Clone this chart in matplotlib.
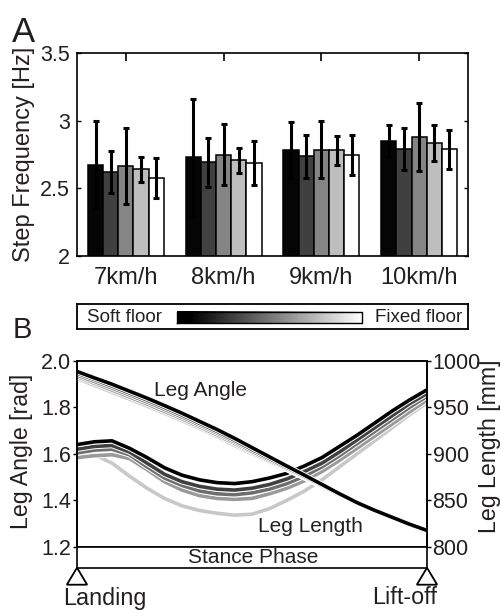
import numpy as np
import matplotlib.pyplot as plt
import matplotlib.patheffects as pe
from matplotlib.patches import Polygon

plt.rcParams['font.family'] = ['Liberation Sans', 'DejaVu Sans']
ink = '#231f20'
plt.rcParams['text.color'] = ink
plt.rcParams['axes.labelcolor'] = ink
plt.rcParams['xtick.labelcolor'] = ink
plt.rcParams['ytick.labelcolor'] = ink

# ---- data, panel A (step frequency, mean and SD, per floor condition)
speeds = ['7km/h', '8km/h', '9km/h', '10km/h']
freq_mean = [[2.675, 2.729, 2.781, 2.852],   # soft floor
             [2.618, 2.692, 2.736, 2.791],
             [2.665, 2.749, 2.786, 2.879],
             [2.640, 2.707, 2.781, 2.835],
             [2.579, 2.687, 2.746, 2.788]]   # fixed floor
freq_sd = [[0.320, 0.430, 0.207, 0.118],
           [0.155, 0.180, 0.160, 0.155],
           [0.280, 0.225, 0.210, 0.250],
           [0.090, 0.093, 0.108, 0.133],
           [0.147, 0.160, 0.150, 0.146]]
bar_colors = ['#050505', '#404040', '#858585', '#bebebe', '#ffffff']

# ---- data, panel B (stance phase in %)
phase = np.arange(0, 101, 5)
leg_angle = [
    [1.955, 1.927, 1.900, 1.870, 1.840, 1.808, 1.775, 1.740, 1.705, 1.667, 1.627,
     1.587, 1.547, 1.508, 1.468, 1.428, 1.390, 1.357, 1.327, 1.297, 1.270],
    [1.948, 1.920, 1.892, 1.862, 1.832, 1.800, 1.767, 1.732, 1.697, 1.659, 1.619,
     1.580, 1.541, 1.503, 1.464, 1.425, 1.388, 1.355, 1.325, 1.295, 1.268],
    [1.940, 1.912, 1.884, 1.854, 1.824, 1.792, 1.759, 1.725, 1.690, 1.652, 1.612,
     1.574, 1.537, 1.500, 1.462, 1.424, 1.387, 1.354, 1.324, 1.294, 1.266],
    [1.933, 1.904, 1.875, 1.845, 1.815, 1.783, 1.751, 1.717, 1.682, 1.645, 1.606,
     1.569, 1.534, 1.498, 1.461, 1.423, 1.386, 1.353, 1.323, 1.293, 1.265],
    [1.925, 1.895, 1.866, 1.836, 1.806, 1.775, 1.743, 1.710, 1.675, 1.637, 1.600,
     1.565, 1.532, 1.497, 1.460, 1.423, 1.386, 1.353, 1.322, 1.292, 1.264]]
leg_length = [
    [910, 913, 914, 906, 896, 885, 877, 872, 869, 868, 870,
     874, 879, 887, 896, 908, 920, 933, 946, 958, 969],
    [905, 908, 909, 902, 890, 878, 870, 865, 862, 861, 863,
     867, 873, 881, 890, 902, 915, 928, 941, 954, 965],
    [901, 904, 905, 899, 886, 874, 866, 860, 857, 856, 858,
     862, 868, 876, 886, 898, 911, 924, 937, 950, 962],
    [896, 898, 899, 895, 883, 870, 861, 855, 852, 851, 852,
     857, 863, 871, 881, 893, 906, 919, 932, 945, 958],
    [900, 899, 890, 876, 863, 852, 844, 839, 836, 834, 835,
     841, 850, 860, 872, 886, 900, 914, 928, 942, 955]]
line_colors = ['#000000', '#404040', '#6e6e6e', '#9a9a9a', '#c8c8c8']

W, H = 502, 610
fig = plt.figure(figsize=(W / 100, H / 100), dpi=100)


def box(x0, y0, x1, y1):
    # pixel box (from top-left) -> figure fraction
    return [x0 / W, 1 - y1 / H, (x1 - x0) / W, (y1 - y0) / H]


# ================= panel A
ax = fig.add_axes(box(77, 53, 468, 256))
bw = 0.155
x = np.arange(1, 5)
for i in range(5):
    ax.bar(x + (i - 2) * bw, freq_mean[i], bw, color=bar_colors[i],
           edgecolor='black', linewidth=1.1, zorder=2)
    ax.errorbar(x + (i - 2) * bw, freq_mean[i], yerr=freq_sd[i], fmt='none',
                ecolor='black', elinewidth=2.2, capsize=2.4, capthick=2.2, zorder=3)
ax.set_xlim(0.5, 4.5)
ax.set_ylim(2, 3.5)
ax.set_xticks(x)
ax.set_xticklabels(speeds, fontsize=17)
ax.set_yticks([2, 2.5, 3, 3.5])
ax.set_yticklabels(['2', '2.5', '3', '3.5'], fontsize=15.5)
ax.tick_params(axis='x', direction='in', top=True, length=6, width=1.2, pad=8)
ax.tick_params(axis='y', direction='in', right=True, length=3, width=1.0, pad=5)
for s in ax.spines.values():
    s.set_linewidth(1.2)
ax.set_ylabel('Step Frequency [Hz]', fontsize=17, labelpad=4)
fig.text(12 / W, 1 - 42 / H, 'A', fontsize=25, va='baseline', ha='left')

# ================= colour legend
axc = fig.add_axes(box(77, 304, 468, 329))
axc.set_xticks([])
axc.set_yticks([])
for s in axc.spines.values():
    s.set_linewidth(1.3)
grad = np.linspace(0, 1, 256)[None, :]
axc.set_xlim(0, 1)
axc.set_ylim(0, 1)
g0, g1 = (177 - 77) / 391, (362 - 77) / 391
axc.imshow(grad, cmap='gray', extent=[g0, g1, 0.24, 0.68], aspect='auto',
           vmin=0.07, vmax=1.0)
axc.plot([g0, g1, g1, g0, g0], [0.24, 0.24, 0.68, 0.68, 0.24], color='black', lw=1.0)
axc.text(0.026, 0.45, 'Soft floor', fontsize=13.5, va='center', ha='left')
axc.text(0.985, 0.45, 'Fixed floor', fontsize=13.5, va='center', ha='right')

# ================= panel B
axB = fig.add_axes(box(77, 361, 427, 546.7))
axR = axB.twinx()
axB.set_zorder(axR.get_zorder() + 1)
axB.patch.set_visible(False)

halo = [pe.Stroke(linewidth=4.0, foreground='white'), pe.Normal()]
for i in range(4, -1, -1):
    axR.plot(phase, leg_length[i], color=line_colors[i], lw=2.6,
             solid_capstyle='butt', path_effects=halo)
for i in range(4, -1, -1):
    axB.plot(phase, leg_angle[i], color=line_colors[i], lw=2.6,
             solid_capstyle='butt', path_effects=halo)

axB.set_xlim(0, 100)
axB.set_ylim(1.2, 2.0)
axR.set_ylim(800, 1000)
axB.set_xticks([])
axB.set_yticks([1.2, 1.4, 1.6, 1.8, 2.0])
axB.set_yticklabels(['1.2', '1.4', '1.6', '1.8', '2.0'], fontsize=15.5)
axR.set_yticks([800, 850, 900, 950, 1000])
axR.set_yticklabels(['800', '850', '900', '950', '1000'], fontsize=15.5)
axB.tick_params(axis='y', direction='out', length=3, width=1.0, pad=1)
axR.tick_params(axis='y', direction='out', length=3, width=1.0, pad=1)
for a in (axB, axR):
    for s in a.spines.values():
        s.set_linewidth(1.2)
fig.text(22 / W, 1 - 451 / H, 'Leg Angle [rad]', fontsize=16.7, rotation=90,
         ha='center', va='center')
fig.text(490 / W, 1 - 446 / H, 'Leg Length [mm]', fontsize=16.7, rotation=90,
         ha='center', va='center')
axB.text(35.4, 1.875, 'Leg Angle', fontsize=15, ha='center', va='center')
axB.text(66.6, 1.286, 'Leg Length', fontsize=15, ha='center', va='center')
fig.text(13 / W, 1 - 338 / H, 'B', fontsize=21, va='baseline', ha='left')

# stance phase bar, events
axS = fig.add_axes(box(77, 546.7, 427, 567.7))
axS.set_xlim(0, 100)
axS.set_ylim(0, 21)
axS.set_xticks([])
axS.set_yticks([])
axS.spines['top'].set_visible(False)
for s in axS.spines.values():
    s.set_linewidth(1.2)
axS.text(50.3, 10, 'Stance Phase', fontsize=15, ha='center', va='center')
for xe in (0, 100):
    axS.add_patch(Polygon([(xe, 0), (xe - 2.9, -17), (xe + 2.9, -17)], closed=True,
                          facecolor='white', edgecolor='black', lw=1.3, clip_on=False))
axS.text(-4, -37.3, 'Landing', fontsize=16.8, ha='left', va='baseline')
axS.text(93.6, -36.6, 'Lift-off', fontsize=16.8, ha='center', va='baseline')

fig.savefig('out.png', dpi=100)
